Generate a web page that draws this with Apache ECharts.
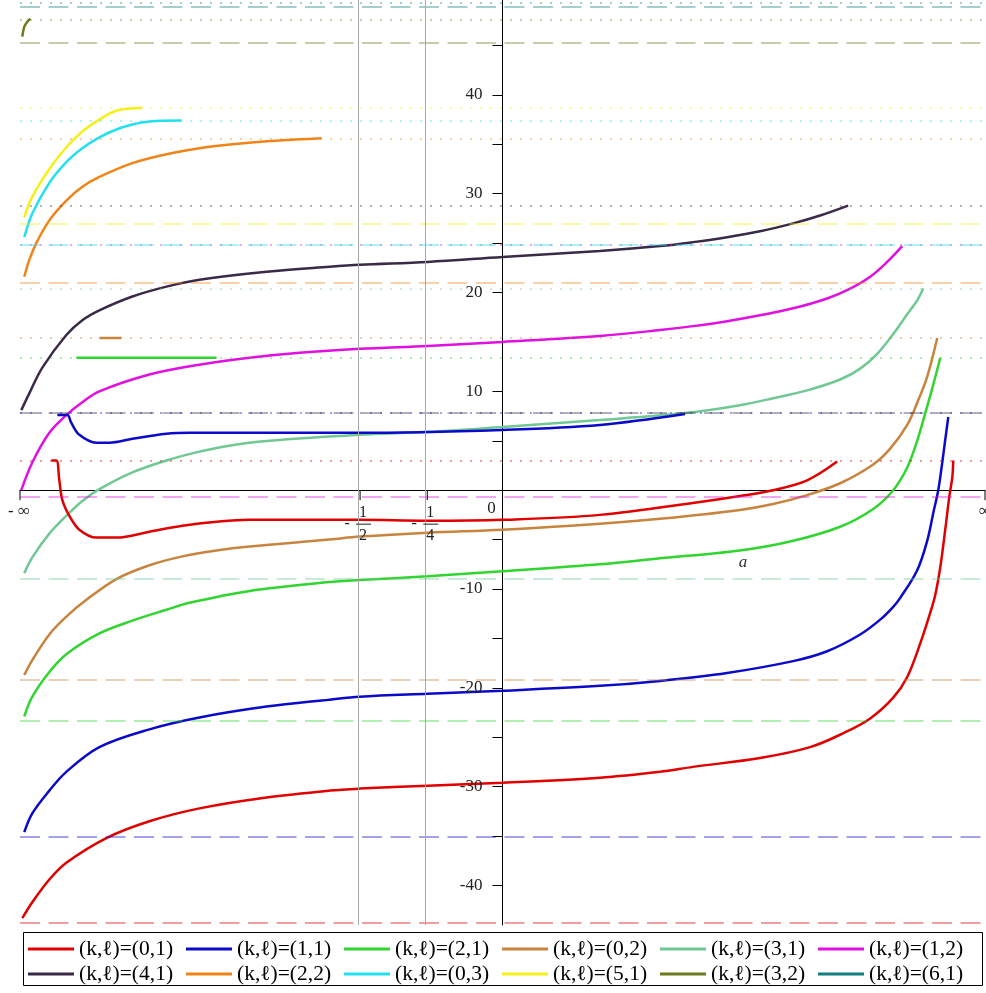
<!DOCTYPE html>
<html>
<head>
<meta charset="utf-8">
<script src="https://cdn.jsdelivr.net/npm/echarts@6/dist/echarts.min.js"></script>
<style>html,body{margin:0;padding:0;background:#fff;}#c{width:986px;height:993px;}</style>
</head>
<body>
<div id="c"></div>
<script>
// x is the compactified coordinate u = (2/pi)*arctan(a), so -inf -> -1, +inf -> 1
const seriesNames = ['(k,ℓ)=(0,1)','(k,ℓ)=(1,1)','(k,ℓ)=(2,1)','(k,ℓ)=(0,2)','(k,ℓ)=(3,1)','(k,ℓ)=(1,2)',
                     '(k,ℓ)=(4,1)','(k,ℓ)=(2,2)','(k,ℓ)=(0,3)','(k,ℓ)=(5,1)','(k,ℓ)=(3,2)','(k,ℓ)=(6,1)'];
const seriesColors = ['#e00000','#0a0ac8','#30d530','#c8843e','#70c894','#e010e0',
                      '#3a2a48','#f08418','#22e0ef','#f5ef1a','#6b7b1f','#137e7e'];
// limits at a -> -infinity (dashed) and a -> +infinity (dotted)
const leftLimits  = [-43.8,-35.1,-23.3,-19.2,-9.0,-0.7, 7.8,21.0,24.8,27.0,45.3,48.9];
const rightLimits = [  3.0,  7.8, 13.4, 15.4,20.4,24.8,28.8,35.6,37.4,38.7,47.6,49.3];

const yTickLabels = [-40,-30,-20,-10,10,20,30,40];
const yMinorTicks = [-40,-35,-30,-25,-20,-15,-10,-5,5,10,15,20,25,30,35,40,45];
const xInfLabels = ['- ∞','∞'];
const xSpecialA = [-0.5,-0.25];          // vertical reference lines / fraction labels
const xFracLabels = [['1','2'],['1','4']];

// curve branches: [u, value]
const k01a = [[-0.9952,-43.3],[-0.9745,-41.7],[-0.9392,-39.4],[-0.904,-37.7],[-0.821,-35.2],[-0.7317,-33.5],
  [-0.628,-32.2],[-0.489,-31.1],[-0.3583,-30.4],[-0.2961,-30.2],[-0.155,-29.9],[0,-29.6],[0.2019,-29.1],
  [0.3263,-28.5],[0.3948,-28.0],[0.5338,-27.1],[0.6376,-26.0],[0.706,-24.6],[0.7621,-23.1],[0.8098,-21.0],
  [0.8388,-18.9],[0.8658,-15.5],[0.8865,-12.4],[0.8969,-10.6],[0.9073,-7.8],[0.9176,-4.0],[0.9259,-0.7],
  [0.9322,1.3],[0.9342,3.0]];
const k01b = [[-0.935,3.0],[-0.9247,3.0],[-0.9185,1.0],[-0.9122,-1.0],[-0.8977,-2.6],[-0.877,-4.0],
  [-0.8417,-4.8],[-0.8002,-4.8],[-0.7317,-4.2],[-0.6633,-3.6],[-0.5927,-3.2],[-0.5243,-3.0],[-0.2961,-3.0],
  [-0.155,-3.1],[0,-3.0],[0.2019,-2.5],[0.4093,-1.2],[0.4923,-0.6],[0.5608,0.0],[0.6313,1.0],[0.6936,2.9]];
const k11a = [[-0.9911,-34.6],[-0.9745,-32.7],[-0.9392,-30.4],[-0.904,-28.5],[-0.8355,-26.0],[-0.7317,-24.2],
  [-0.628,-23.0],[-0.489,-21.9],[-0.3583,-21.2],[-0.2961,-20.9],[-0.155,-20.6],[0,-20.3],[0.2019,-19.8],
  [0.3263,-19.3],[0.4654,-18.5],[0.6023,-17.3],[0.6728,-16.3],[0.7413,-14.6],[0.7828,-13.1],[0.8098,-11.8],
  [0.8243,-10.9],[0.8595,-8.1],[0.8803,-5.1],[0.8928,-2.3],[0.9031,0.0],[0.9114,2.8],[0.9176,5.1],[0.9239,7.4]];
const k11b = [[-0.9226,7.6],[-0.902,7.6],[-0.8936,6.8],[-0.877,5.6],[-0.8417,4.8],[-0.8147,4.8],[-0.767,5.2],
  [-0.6965,5.7],[-0.6488,5.8],[-0.5243,5.8],[-0.2961,5.8],[0,6.1],[0.2019,6.6],[0.3782,7.7]];
const k21a = [[-0.9911,-22.9],[-0.9745,-20.9],[-0.9392,-18.4],[-0.904,-16.6],[-0.8355,-14.5],[-0.767,-13.2],
  [-0.6965,-12.1],[-0.6488,-11.4],[-0.5243,-10.2],[-0.3583,-9.3],[-0.2961,-9.1],[-0.155,-8.7],[0,-8.2],
  [0.2019,-7.5],[0.3263,-6.9],[0.4923,-6.1],[0.5961,-5.2],[0.6998,-3.7],[0.7683,-1.9],[0.8098,0.0],
  [0.8388,2.3],[0.8595,5.0],[0.8762,7.8],[0.8907,10.3],[0.9073,13.4]];
const k21b = [[-0.8832,13.4],[-0.5927,13.4]];
const k02a = [[-0.9911,-18.7],[-0.9745,-17.2],[-0.9392,-14.6],[-0.904,-12.8],[-0.8624,-11.1],[-0.8002,-9.0],
  [-0.7317,-7.6],[-0.6633,-6.7],[-0.5927,-6.1],[-0.5243,-5.7],[-0.3583,-5.0],[-0.2961,-4.7],[-0.155,-4.3],
  [0,-4.0],[0.2019,-3.4],[0.3263,-2.9],[0.4923,-2.0],[0.5608,-1.4],[0.6313,-0.5],[0.6998,0.7],[0.7683,2.6],
  [0.8035,4.2],[0.8388,6.6],[0.8616,9.1],[0.8803,11.5],[0.901,15.4]];
const k02b = [[-0.8355,15.4],[-0.7898,15.4]];
const k31 = [[-0.9911,-8.4],[-0.9745,-6.8],[-0.9392,-4.4],[-0.904,-2.6],[-0.8708,-1.1],[-0.8355,0.1],
  [-0.767,1.8],[-0.6965,3.0],[-0.628,3.9],[-0.5243,4.8],[-0.2961,5.6],[-0.155,5.9],[0,6.4],[0.2019,7.1],
  [0.3782,7.8],[0.4923,8.6],[0.5608,9.3],[0.6313,10.1],[0.6998,11.2],[0.7413,12.3],[0.7766,13.8],
  [0.8098,15.8],[0.8388,17.8],[0.8595,19.2],[0.872,20.4]];
const k12 = [[-0.9973,0.0],[-0.9745,2.8],[-0.9392,5.8],[-0.904,7.6],[-0.8708,8.9],[-0.8355,10.0],
  [-0.7317,11.7],[-0.628,12.7],[-0.5243,13.4],[-0.4205,13.9],[-0.2961,14.3],[-0.155,14.6],[0,15.0],
  [0.2019,15.6],[0.3263,16.2],[0.3948,16.6],[0.4654,17.1],[0.5338,17.7],[0.6023,18.4],[0.6728,19.4],
  [0.7206,20.4],[0.7621,21.6],[0.7973,23.1],[0.8284,24.7]];
const k41 = [[-0.9973,8.1],[-0.9807,9.8],[-0.9537,12.4],[-0.904,15.7],[-0.8708,17.2],[-0.8355,18.2],
  [-0.767,19.6],[-0.6965,20.6],[-0.628,21.3],[-0.489,22.1],[-0.3583,22.6],[-0.2961,22.8],[-0.155,23.1],
  [0,23.6],[0.2019,24.2],[0.3263,24.7],[0.3948,25.1],[0.4654,25.6],[0.5338,26.2],[0.6023,27.0],
  [0.6583,27.8],[0.7164,28.8]];
const k22 = [[-0.9911,21.6],[-0.9807,23.3],[-0.9662,25.0],[-0.9392,27.3],[-0.904,29.3],[-0.8708,30.7],
  [-0.8355,31.7],[-0.767,33.1],[-0.6965,34.0],[-0.628,34.6],[-0.5595,35.0],[-0.489,35.3],[-0.4205,35.5],
  [-0.3749,35.6]];
const k03 = [[-0.9911,25.6],[-0.9745,28.0],[-0.9392,31.1],[-0.904,33.2],[-0.8708,34.6],[-0.8355,35.7],
  [-0.8002,36.5],[-0.767,37.0],[-0.7317,37.3],[-0.6653,37.4]];
const k51 = [[-0.9911,27.6],[-0.9745,29.7],[-0.9392,32.5],[-0.904,34.7],[-0.8708,36.3],[-0.8355,37.5],
  [-0.8002,38.4],[-0.7463,38.7]];
const k32 = [[-0.9952,45.9],[-0.9911,46.9],[-0.9849,47.4],[-0.9786,47.7]];
const k61 = [];

const branches = [
  [0,k01a],[1,k11a],[2,k21a],[3,k02a],[4,k31],[5,k12],[6,k41],[7,k22],[8,k03],[9,k51],[10,k32],[11,k61],
  [0,k01b],[1,k11b],[2,k21b],[3,k02b]
];

const FONT = "'Liberation Serif','Times New Roman',serif";
function tint(hex, a){
  const r=parseInt(hex.slice(1,3),16), g=parseInt(hex.slice(3,5),16), b=parseInt(hex.slice(5,7),16);
  return 'rgba('+r+','+g+','+b+','+a+')';
}
const uOf = a => 2/Math.PI*Math.atan(a);

const limitLines = [];
seriesColors.forEach((c,i)=>{
  limitLines.push({yAxis:leftLimits[i], lineStyle:{color:tint(c,0.38), type:[20,8.5], width:2}});
  limitLines.push({yAxis:rightLimits[i], lineStyle:{color:tint(c,0.38), type:[2,8], width:2}});
});

const series = [{
  type:'line', data:[], silent:true, z:1,
  markLine:{silent:true, symbol:['none','none'], label:{show:false}, animation:false,
    data: limitLines.concat(xSpecialA.map(a=>({xAxis:uOf(a), lineStyle:{color:'#a8a8a8', type:'solid', width:1}})))}
}];
branches.forEach(([i,d])=>{
  series.push({
    name: seriesNames[i], type:'line', data:d, showSymbol:false, symbol:'none',
    smooth:0.35, z:3,
    lineStyle:{color:seriesColors[i], width:2.5}, itemStyle:{color:seriesColors[i]}
  });
});

const legendBase = {orient:'horizontal', left:28, icon:'rect', itemWidth:46, itemHeight:3, itemGap:9,
  padding:0, selectedMode:false,
  textStyle:{fontFamily:FONT, fontSize:21.5, color:'#000', width:98, height:16, lineHeight:16}};

const chart = echarts.init(document.getElementById('c'), null, {renderer:'canvas'});
chart.setOption({
  animation:false,
  backgroundColor:'#fff',
  grid:{left:20, right:1, top:0, bottom:68, containLabel:false, outerBoundsMode:'none'},
  xAxis:{type:'value', min:-1, max:1, splitLine:{show:false},
    axisLine:{onZero:true, lineStyle:{color:'#000', width:1}},
    axisTick:{show:false}, axisLabel:{show:false}
  },
  yAxis:{type:'value', min:-44, max:49.6, splitLine:{show:false},
    axisLine:{onZero:true, lineStyle:{color:'#000', width:1}},
    axisTick:{customValues:yMinorTicks, length:10, lineStyle:{color:'#000'}},
    axisLabel:{show:false}
  },
  legend:[
    Object.assign({}, legendBase, {data:seriesNames.slice(0,6), top:938}),
    Object.assign({}, legendBase, {data:seriesNames.slice(6,12), top:963})
  ],
  series: series
});

// axis annotations placed through the chart's own coordinate conversion
const graphics = [];
const px = (u,v)=>chart.convertToPixel({gridIndex:0},[u,v]);
const origin = px(0,0);
const txt = (x,y,s,font,align)=>({type:'text', x:x, y:y, z:10,
  style:{text:s, font:font, fill:'#222', align:align||'center', verticalAlign:'middle'}});
// legend frame
graphics.push({type:'rect', z:0, shape:{x:23.5, y:932.5, width:959, height:53}, style:{fill:'#fff', stroke:'#000', lineWidth:1}});
// y labels
yTickLabels.forEach(v=>{
  const p = px(0,v);
  graphics.push(txt(p[0]-20, p[1], String(v), '17px '+FONT, 'right'));
});
// x ticks and labels
[-1].concat(xSpecialA.map(uOf)).concat([1]).forEach(u=>{
  const p = px(u,0);
  graphics.push({type:'line', z:10, shape:{x1:p[0], y1:p[1], x2:p[0], y2:p[1]+10}, style:{stroke:'#000', lineWidth:1}});
});
[-1,1].forEach((u,i)=>{
  const p = px(u,0);
  graphics.push(txt(p[0]+(i===0?-1:0), p[1]+21, xInfLabels[i], '17px '+FONT, 'center'));
});
xSpecialA.forEach((a,i)=>{
  const p = px(uOf(a),0);
  const tx = p[0], ty = p[1];
  graphics.push(txt(tx+3, ty+23, xFracLabels[i][0], '16px '+FONT));
  graphics.push(txt(tx+3, ty+46, xFracLabels[i][1], '16px '+FONT));
  graphics.push({type:'line', z:10, shape:{x1:tx-4, y1:ty+34, x2:tx+11, y2:ty+34}, style:{stroke:'#222', lineWidth:1}});
  graphics.push(txt(tx-13, ty+34, '-', '16px '+FONT));
});
graphics.push(txt(origin[0]-11, origin[1]+18, '0', '17px '+FONT));
const ap = px(0.4985,-7.3);
graphics.push({type:'text', x:ap[0], y:ap[1], z:10, style:{text:'a', font:'italic 17px '+FONT, fill:'#333', align:'center', verticalAlign:'middle'}});
chart.setOption({graphic:graphics});
</script>
</body>
</html>
